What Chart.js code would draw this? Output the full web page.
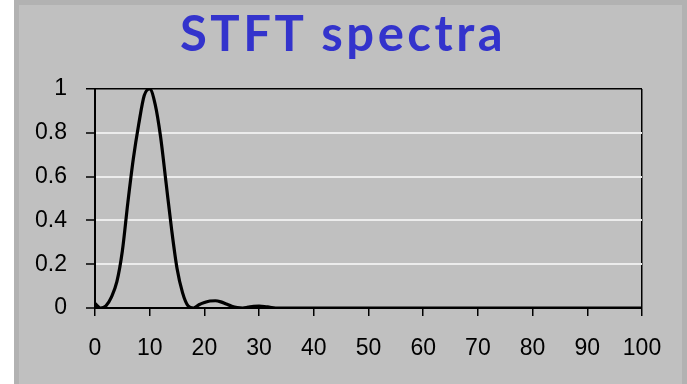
<!DOCTYPE html>
<html>
<head>
<meta charset="utf-8">
<title>STFT spectra</title>
<script src="https://cdn.jsdelivr.net/npm/chart.js@4.4.0/dist/chart.umd.min.js"></script>
<style>
  html, body { margin: 0; padding: 0; background: #ffffff; width: 687px; height: 384px; overflow: hidden; }
  #frame { position: absolute; left: 14px; top: 0; width: 663px; height: 400px; background: #c0c0c0;
           border: 5px solid #b2b2b2; border-bottom: none; }
  #title { position: absolute; left: 343px; top: 8px; transform: translateX(-50%);
           font: bold 49px "Comic Sans MS", "Lato", sans-serif; line-height: 48px;
           color: #3333cc; white-space: nowrap; letter-spacing: 3.5px; }
  #plot { position: absolute; left: 0; top: 0; }
</style>
</head>
<body>
<div id="frame"></div>
<div id="title">STFT spectra</div>
<canvas id="plot" width="687" height="384"></canvas>
<script>
// Frequency bins (x) and normalised spectral magnitude (y)
const freq = [0, 1, 2, 3, 4, 5, 6, 7, 8, 9, 10, 11, 12, 13, 14, 15, 16, 17, 18, 19,
              20, 21, 22, 23, 24, 25, 26, 27, 28, 29, 30, 31, 32, 33, 34,
              40, 50, 60, 70, 80, 90, 100];
const magnitude = [0.02, 0.0, 0.01, 0.05, 0.12, 0.26, 0.48, 0.68, 0.84, 0.97, 1.0, 0.93, 0.78, 0.57, 0.36, 0.18, 0.07, 0.01, 0.0, 0.015,
                   0.025, 0.032, 0.033, 0.028, 0.018, 0.008, 0.002, 0.0, 0.004, 0.008, 0.009, 0.007, 0.003, 0.0, 0.0,
                   0.0, 0.0, 0.0, 0.0, 0.0, 0.0, 0.0];

// Axis tick labels
const xTickLabels = ['0', '10', '20', '30', '40', '50', '60', '70', '80', '90', '100'];
const yTickLabels = ['0', '0.2', '0.4', '0.6', '0.8', '1'];

const tickFont = { family: 'Arial, "Liberation Sans", sans-serif', size: 23 };

new Chart(document.getElementById('plot'), {
  type: 'line',
  data: {
    datasets: [{
      data: freq.map((f, i) => ({ x: f, y: magnitude[i] })),
      borderColor: '#000000',
      borderWidth: 3.2,
      pointRadius: 0,
      fill: false,
      cubicInterpolationMode: 'monotone'
    }]
  },
  options: {
    responsive: false,
    animation: false,
    devicePixelRatio: 1,
    layout: { padding: { left: 0, top: 89, right: 45, bottom: 0 } },
    plugins: { legend: { display: false }, tooltip: { enabled: false } },
    scales: {
      x: {
        type: 'linear',
        min: 0,
        max: 100,
        afterFit(scale) { scale.height = 76; },
        ticks: {
          stepSize: 10,
          autoSkip: false,
          maxRotation: 0,
          color: '#000000',
          font: tickFont,
          padding: 19,
          callback: (v, i) => xTickLabels[i]
        },
        grid: {
          color: (c) => (c.tick && c.tick.value === 100 ? '#000000' : 'rgba(0,0,0,0)'),
          lineWidth: 1.5,
          tickColor: '#000000',
          tickLength: 8,
          tickWidth: 1.5
        },
        border: { color: '#000000', width: 2 }
      },
      y: {
        min: 0,
        max: 1,
        afterFit(scale) { scale.width = 95; },
        ticks: {
          stepSize: 0.2,
          color: '#000000',
          font: tickFont,
          padding: 19,
          callback: (v, i) => yTickLabels[i]
        },
        grid: {
          color: (c) => (c.tick && (c.tick.value === 1 || c.tick.value === 0) ? '#000000' : '#ececec'),
          lineWidth: (c) => (c.tick && c.tick.value === 1 ? 1.5 : 2),
          tickColor: '#000000',
          tickLength: 9,
          tickWidth: 1.5
        },
        border: { color: '#000000', width: 2 }
      }
    }
  }
});
</script>
</body>
</html>
